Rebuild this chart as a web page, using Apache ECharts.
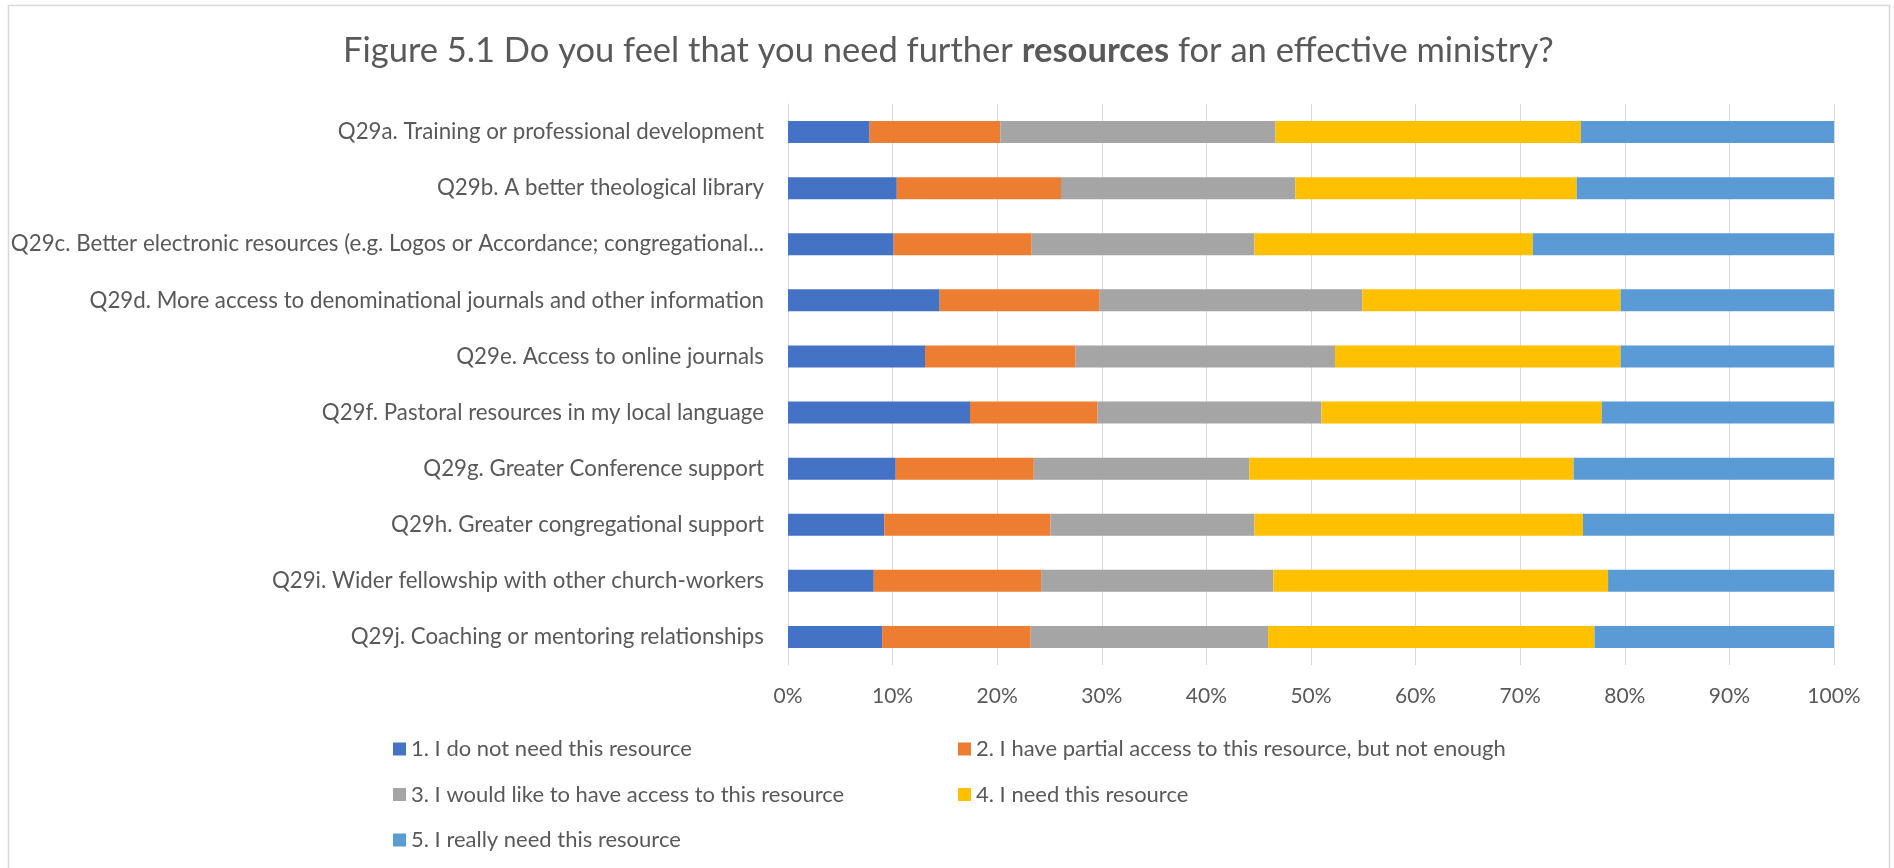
<!DOCTYPE html>
<html>
<head>
<meta charset="utf-8">
<script src="https://cdn.jsdelivr.net/npm/echarts@6/dist/echarts.min.js"></script>
<style>
html,body{margin:0;padding:0;background:#fff;}
#chart{width:1894px;height:868px;}
</style>
</head>
<body>
<div id="chart"></div>
<script>
const categories = [
  "Q29a. Training or professional development",
  "Q29b. A better theological library",
  "Q29c. Better electronic resources (e.g. Logos or Accordance; congregational...",
  "Q29d. More access to denominational journals and other information",
  "Q29e. Access to online journals",
  "Q29f. Pastoral resources in my local language",
  "Q29g. Greater Conference support",
  "Q29h. Greater congregational support",
  "Q29i. Wider fellowship with other church-workers",
  "Q29j. Coaching or mentoring relationships"
];
const seriesNames = [
  "1. I do not need this resource",
  "2. I have partial access to this resource, but not enough",
  "3. I would like to have access to this resource",
  "4. I need this resource",
  "5. I really need this resource"
];
const notNeed      = [7.8, 10.4, 10.1, 14.5, 13.1, 17.4, 10.3, 9.2, 8.2, 9.0];
const partial      = [12.5, 15.7, 13.2, 15.3, 14.4, 12.2, 13.2, 15.9, 16.0, 14.2];
const wouldLike    = [26.3, 22.4, 21.3, 25.1, 24.8, 21.4, 20.6, 19.5, 22.2, 22.7];
const need         = [29.2, 26.9, 26.6, 24.7, 27.3, 26.8, 31.0, 31.4, 32.0, 31.2];
const reallyNeed   = [24.2, 24.6, 28.8, 20.4, 20.4, 22.2, 24.9, 24.0, 21.6, 22.9];
const xTicks = [0, 10, 20, 30, 40, 50, 60, 70, 80, 90, 100];

const colors = ["#4472C4", "#ED7D31", "#A5A5A5", "#FFC000", "#5B9BD5"];
const FONT = "Lato, 'Open Sans', sans-serif";
const TXT = "#595959";

const allData = [notNeed, partial, wouldLike, need, reallyNeed];
const chart = echarts.init(document.getElementById('chart'));
chart.setOption({
  animation: false,
  color: colors,
  textStyle: { fontFamily: FONT, color: TXT },
  graphic: [{
    type: 'rect',
    shape: { x: 8.5, y: 5.5, width: 1881, height: 900 },
    style: { fill: 'none', stroke: '#d9d9d9', lineWidth: 1.5 },
    silent: true
  }],
  title: {
    text: 'Figure 5.1 Do you feel that you need further {b|resources} for an effective ministry?',
    left: 343,
    top: 33,
    padding: 0,
    textStyle: {
      fontFamily: FONT, fontSize: 34.5, fontWeight: 'normal', color: TXT,
      rich: { b: { fontFamily: FONT, fontSize: 34.5, fontWeight: 'bold', color: TXT } }
    }
  },
  legend: [{
    orient: 'vertical',
    left: 393, top: 738, padding: 0,
    itemWidth: 13, itemHeight: 13, itemGap: 23.5,
    icon: 'rect',
    data: [seriesNames[0], seriesNames[2], seriesNames[4]],
    textStyle: { fontFamily: FONT, fontSize: 22, color: TXT }
  }, {
    orient: 'vertical',
    left: 958, top: 738, padding: 0,
    itemWidth: 13, itemHeight: 13, itemGap: 23.5,
    icon: 'rect',
    data: [seriesNames[1], seriesNames[3]],
    textStyle: { fontFamily: FONT, fontSize: 22, color: TXT }
  }],
  grid: { left: 788, right: 60, top: 104, height: 561, containLabel: false },
  xAxis: {
    type: 'value', min: xTicks[0], max: xTicks[xTicks.length - 1], interval: 10,
    axisLine: { show: false }, axisTick: { show: false },
    splitLine: { lineStyle: { color: '#d9d9d9', width: 1 } },
    axisLabel: { formatter: '{value}%', fontSize: 21, color: TXT, fontFamily: FONT, margin: 21 }
  },
  yAxis: {
    type: 'category', data: categories, inverse: true,
    axisLine: { show: true, lineStyle: { color: '#d9d9d9', width: 1 } },
    axisTick: { show: false },
    axisLabel: { fontSize: 22.3, color: TXT, fontFamily: FONT, margin: 24 }
  },
  series: seriesNames.map((n, i) => ({
    name: n, type: 'bar', stack: 'total', barWidth: 22,
    data: allData[i],
    itemStyle: { color: colors[i] }
  }))
});
</script>
</body>
</html>
